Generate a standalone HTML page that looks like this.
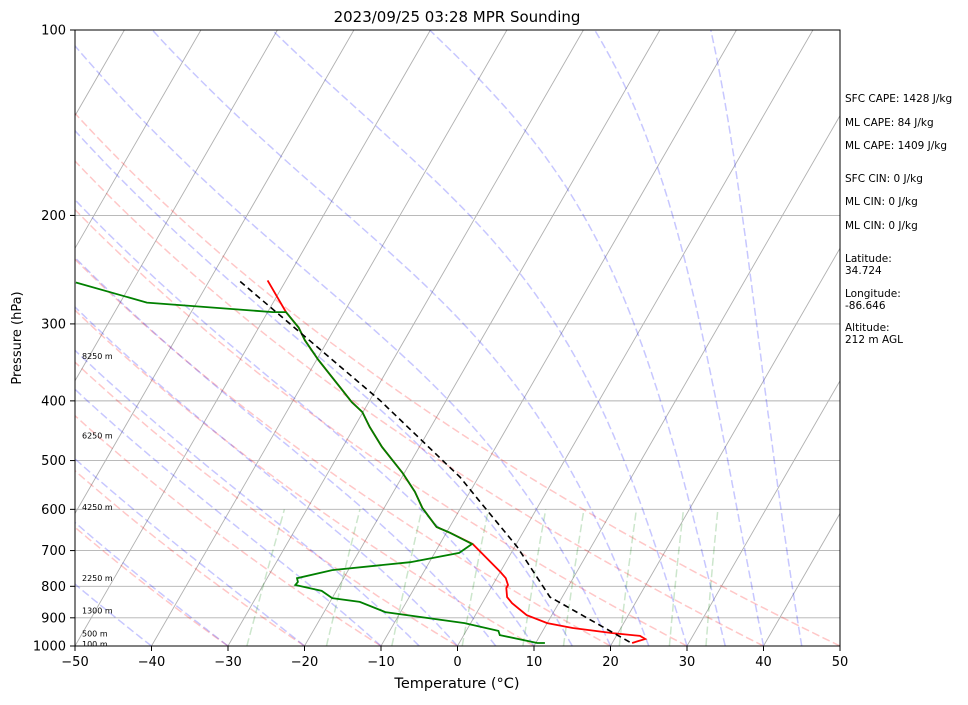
<!DOCTYPE html>
<html><head><meta charset="utf-8"><style>
body{margin:0;background:#fff;font-family:"Liberation Sans","DejaVu Sans",sans-serif}
svg text{font-family:"DejaVu Sans","Liberation Sans",sans-serif}
</style></head><body>
<svg id="c" width="968" height="700" xmlns="http://www.w3.org/2000/svg">
<defs><clipPath id="pc"><rect x="75" y="30" width="765" height="616"/></clipPath></defs>
<rect width="968" height="700" fill="#fff"/>
<g id="bg" clip-path="url(#pc)"></g>
<g id="series" clip-path="url(#pc)"></g>
<rect x="75" y="30" width="765" height="616" fill="none" stroke="#000" stroke-width="1"/>
<g id="axes"></g>
<text x="457" y="22" text-anchor="middle" font-size="15">2023/09/25 03:28 MPR Sounding</text>
<text x="457" y="688" text-anchor="middle" font-size="14.5">Temperature (°C)</text>
<text x="21" y="338" text-anchor="middle" font-size="13" transform="rotate(-90 21 338)">Pressure (hPa)</text>
<g font-size="10.5">
<text x="845" y="102">SFC CAPE: 1428 J/kg</text>
<text x="845" y="126">ML CAPE: 84 J/kg</text>
<text x="845" y="149">ML CAPE: 1409 J/kg</text>
<text x="845" y="182">SFC CIN: 0 J/kg</text>
<text x="845" y="205">ML CIN: 0 J/kg</text>
<text x="845" y="229">ML CIN: 0 J/kg</text>
<text x="845" y="262">Latitude:</text><text x="845" y="274">34.724</text>
<text x="845" y="297">Longitude:</text><text x="845" y="309">-86.646</text>
<text x="845" y="331">Altitude:</text><text x="845" y="343">212 m AGL</text>
</g>
</svg>
<script>
const pressureTicks=[100,200,300,400,500,600,700,800,900,1000];
const tempTicks=[-50,-40,-30,-20,-10,0,10,20,30,40,50];
const heightLabels=["8250 m","6250 m","4250 m","2250 m","1300 m","500 m","100 m"];
const heightPressures=[338,455,595,775,875,955,992];
const tempP=[255,287,304,319,343,380,402,417,441,475,524,562,597,641,655,683,758,776,796,805,833,852,891,918,935,953,963,974,989];
const tempT=[-52.4,-47.6,-44.8,-43.0,-39.8,-34.9,-32.2,-30.1,-28.0,-24.9,-20.2,-17.2,-15.0,-11.7,-9.5,-5.7,0.0,1.2,2.0,2.0,2.8,3.9,6.7,10.0,13.7,19.3,23.1,24.0,22.6];
const dewP=[257,277,287,287,304,319,343,380,402,417,441,475,524,562,597,641,655,683,706,731,753,776,787,796,814,836,848,881,918,945,960,989,989];
const dewT=[-77.3,-66.5,-49.3,-47.6,-44.8,-43.0,-39.8,-34.9,-32.2,-30.1,-28.0,-24.9,-20.2,-17.2,-15.0,-11.7,-9.5,-5.8,-6.8,-12.5,-22.1,-26.1,-25.7,-25.8,-21.9,-20.0,-16.1,-12.0,-0.8,4.2,4.7,10.2,11.2];
const parcelP=[256,399,532,579,690,833,845,989];
const parcelT=[-55.9,-28.7,-12.4,-8.3,0.3,8.4,9.6,22.5];
const dryT0=[-30,-20,-10,0,10,20,30,40,50];
const moistT0=[-50,-40,-30,-20,-10,-5,0,5,10,15,20,25,30,35,40,45];
const mixW=[0.0004,0.001,0.002,0.004,0.007,0.01,0.016,0.024,0.032];

const NS="http://www.w3.org/2000/svg";
const X0=75,PX=7.65,YB=646,H=616,SK=0.577;
function yOf(p){return YB-Math.log10(1000/p)*H;}
function xOf(T,p){return X0+(T+50)*PX+(YB-yOf(p))*SK;}
function mk(tag,attrs,parent){const e=document.createElementNS(NS,tag);for(const k in attrs)e.setAttribute(k,attrs[k]);parent.appendChild(e);return e;}
function pathD(ps,ts){return ps.map((p,i)=>(i?'L':'M')+xOf(ts[i],p).toFixed(1)+','+yOf(p).toFixed(1)).join('');}
const bg=document.getElementById('bg'),ser=document.getElementById('series'),ax=document.getElementById('axes');
pressureTicks.forEach(p=>{const l=mk('line',{x1:75,x2:840,y1:yOf(p),y2:yOf(p),stroke:'#b0b0b0','stroke-width':0.9},bg);

});
for(let T=-150;T<=50;T+=10){const l=mk('line',{x1:xOf(T,1000),y1:yOf(1000),x2:xOf(T,100),y2:yOf(100),stroke:'#b0b0b0','stroke-width':0.9},bg);

}
const plev=[];for(let p=1000;p>=100;p-=10)plev.push(p);
dryT0.forEach(t0=>{const th=t0+273.15;const ts=plev.map(p=>th*Math.pow(p/1000,0.2857)-273.15);
const e=mk('path',{d:pathD(plev,ts),fill:'none',stroke:'#ff0000','stroke-opacity':0.22,'stroke-width':1.5,'stroke-dasharray':'8,3.5'},bg);

});
function es(T){return 6.112*Math.exp(17.67*T/(T+243.5));}
moistT0.forEach(t0=>{let T=t0;const ts=[];const ps=[];
for(let p=1000;p>=100;p-=5){ps.push(p);ts.push(T);const Tk=T+273.15;const rs=0.622*es(T)/(p-es(T));
const g=(287*Tk+2.5e6*rs)/(1005+2.5e6*2.5e6*rs*0.622/(287*Tk*Tk))/p;T-=g*5;}
const e=mk('path',{d:pathD(ps,ts),fill:'none',stroke:'#0000ff','stroke-opacity':0.22,'stroke-width':1.5,'stroke-dasharray':'8,3.5'},bg);

});
mixW.forEach(w=>{const ps=[],ts=[];for(let p=1000;p>=600;p-=20){const e=w*p/(0.622+w);const l=Math.log(e/6.112);ps.push(p);ts.push(243.5*l/(17.67-l));}
const e=mk('path',{d:pathD(ps,ts),fill:'none',stroke:'#008000','stroke-opacity':0.2,'stroke-width':1.5,'stroke-dasharray':'8,3.5'},bg);

});
const t=mk('path',{d:pathD(tempP,tempT),fill:'none',stroke:'#ff0000','stroke-width':1.8},ser);


const d=mk('path',{d:pathD(dewP,dewT),fill:'none',stroke:'#008000','stroke-width':1.8},ser);


const pc=mk('path',{d:pathD(parcelP,parcelT),fill:'none',stroke:'#000','stroke-width':1.6,'stroke-dasharray':'6,4'},ser);


heightLabels.forEach((s,i)=>{const e=mk('text',{x:82,y:yOf(heightPressures[i])+3,'font-size':8},ser);e.textContent=s;

});
pressureTicks.forEach(p=>{const y=yOf(p);mk('line',{x1:70,x2:75,y1:y,y2:y,stroke:'#000'},ax);
const e=mk('text',{x:66,y:y+4.5,'text-anchor':'end','font-size':13},ax);e.textContent=p;

});
tempTicks.forEach(T=>{const x=X0+(T+50)*PX;mk('line',{x1:x,x2:x,y1:646,y2:651,stroke:'#000'},ax);
const e=mk('text',{x:x,y:666,'text-anchor':'middle','font-size':13},ax);e.textContent=(T<0?'\u2212'+(-T):T);

});
</script>
</body></html>
